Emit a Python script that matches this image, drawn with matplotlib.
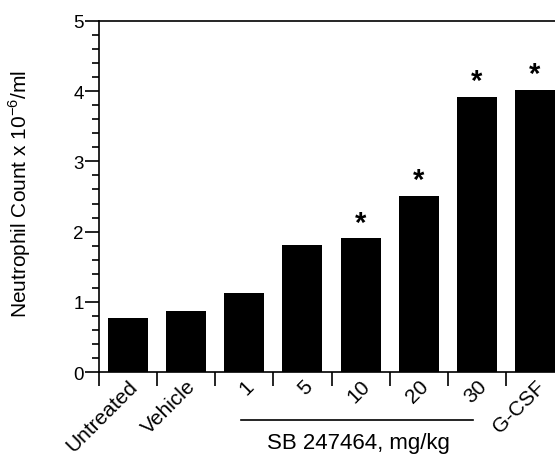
import matplotlib
matplotlib.use("Agg")
import matplotlib.pyplot as plt
from matplotlib.ticker import MultipleLocator, FixedLocator

plt.rcParams['font.family'] = ['Liberation Sans', 'DejaVu Sans']
plt.rcParams['mathtext.fontset'] = 'custom'
plt.rcParams['mathtext.rm'] = 'Liberation Sans'

categories = ["Untreated", "Vehicle", "1", "5", "10", "20", "30", "G-CSF"]
values = [0.77, 0.87, 1.12, 1.81, 1.91, 2.51, 3.92, 4.02]
significant = [False, False, False, False, True, True, True, True]
y_ticks = [0, 1, 2, 3, 4, 5]
group_label = "SB 247464, mg/kg"
ylabel = "Neutrophil Count x 10$^{\\mathrm{-6}}$/ml"

W, H = 555, 456
fig = plt.figure(figsize=(W / 100, H / 100), dpi=100)
left, right, top, bottom = 99, 564, 22, 373
ax = fig.add_axes([left / W, 1 - bottom / H, (right - left) / W, (bottom - top) / H])

x = list(range(len(categories)))
ax.bar(x, values, width=0.69, color="black", edgecolor="black", linewidth=0)
ax.set_xlim(-0.5, len(categories) - 0.5)
ax.set_ylim(0, 5)

ax.yaxis.set_major_locator(FixedLocator(y_ticks))
ax.yaxis.set_minor_locator(MultipleLocator(0.2))
ax.tick_params(axis='y', which='major', length=10, width=1.2, labelsize=13.5, pad=1)
ax.tick_params(axis='y', which='minor', length=5, width=1.2)

ax.xaxis.set_major_locator(FixedLocator([i - 0.5 for i in range(len(categories) + 1)]))
ax.tick_params(axis='x', which='major', length=10, width=1.2, labelbottom=False)
ax.set_xticks(x, minor=True)
ax.set_xticklabels(categories, minor=True, rotation=45, ha='right', rotation_mode='anchor')
ax.tick_params(axis='x', which='minor', length=0, labelsize=15, pad=3)

for s in ['left', 'bottom', 'top', 'right']:
    ax.spines[s].set_linewidth(1.2)

for xi, v, sig in zip(x, values, significant):
    if sig:
        ax.annotate("*", (xi, v), xytext=(0, 1), textcoords='offset points',
                    ha='center', va='bottom', fontsize=21, fontweight='bold')

ax.set_ylabel(ylabel, fontsize=15)
ax.yaxis.set_label_coords((33 - left) / (right - left), (bottom - 194) / (bottom - top))

# group underline and label
trans = ax.get_xaxis_transform()
y_line = -(421 - bottom) / (bottom - top)
ax.plot([1.94, 5.94], [y_line, y_line], transform=trans, color='black', lw=1.2, clip_on=False)
ax.text(3.96, -(443 - bottom) / (bottom - top), group_label, transform=trans,
        ha='center', va='center', fontsize=16)

fig.savefig("out.png", dpi=100)
